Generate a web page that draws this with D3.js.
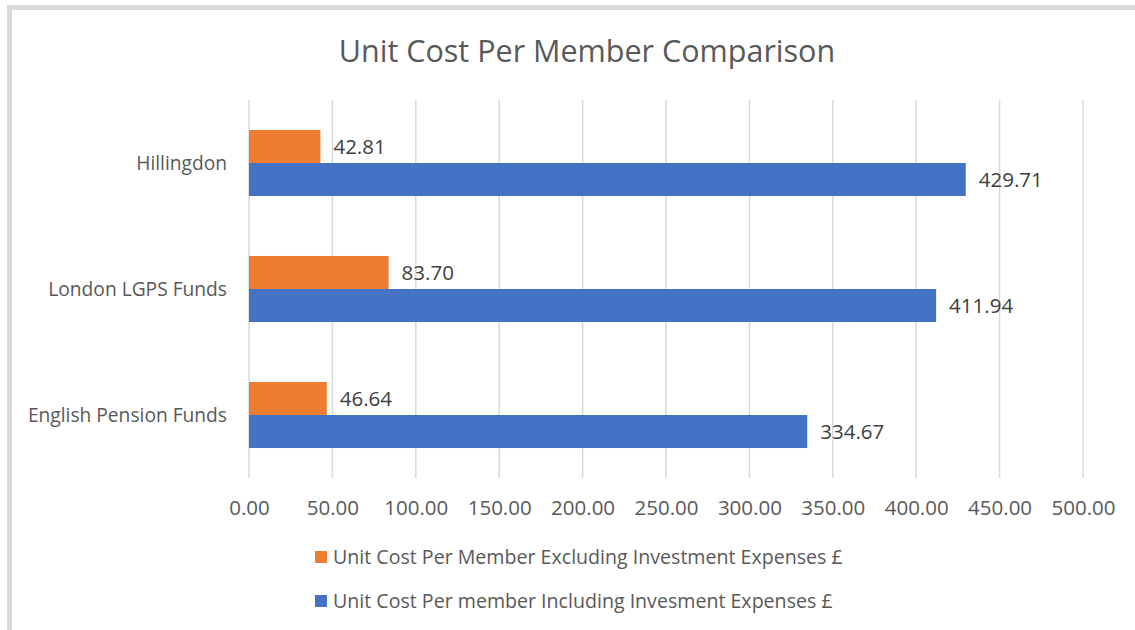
<!DOCTYPE html>
<html>
<head>
<meta charset="utf-8">
<script src="https://cdn.jsdelivr.net/npm/d3@7"></script>
<style>
  body { margin: 0; background: #fff; }
  text { font-family: "Open Sans", sans-serif; }
</style>
</head>
<body>
<div id="chart"></div>
<script>
// data
var categories = ["Hillingdon", "London LGPS Funds", "English Pension Funds"];
var seriesNames = ["Unit Cost Per Member Excluding Investment Expenses £",
                   "Unit Cost Per member Including Invesment Expenses £"];
var excluding = [42.81, 83.70, 46.64];
var including = [429.71, 411.94, 334.67];
var xTicks = [0, 50, 100, 150, 200, 250, 300, 350, 400, 450, 500];

var colors = ["#ed7d31", "#4472c4"];

// svg container
var svgWidth = 1135;
var svgHeight = 630;

var plot = { left: 249, right: 1083, top: 100, bottom: 478 };

var svg = d3.select("#chart")
  .append("svg")
  .attr("width", svgWidth)
  .attr("height", svgHeight);

svg.append("rect")
  .attr("width", svgWidth)
  .attr("height", svgHeight)
  .attr("fill", "#fff");

// grey frame that runs off the right and bottom edge
svg.append("rect")
  .attr("x", 9.5)
  .attr("y", 7.5)
  .attr("width", 1200)
  .attr("height", 700)
  .attr("fill", "none")
  .attr("stroke", "#d9d9d9")
  .attr("stroke-width", 5);

// title
svg.append("text")
  .attr("x", 587)
  .attr("y", 62)
  .attr("text-anchor", "middle")
  .attr("font-size", "30.5px")
  .attr("fill", "#595959")
  .text("Unit Cost Per Member Comparison");

// scales
var x = d3.scaleLinear()
  .domain([0, 500])
  .range([plot.left, plot.right]);

var y = d3.scaleBand()
  .domain(categories)
  .range([plot.top, plot.bottom])
  .paddingInner(0.476)
  .paddingOuter(0.238);

var ySub = d3.scaleBand()
  .domain([0, 1])
  .range([0, y.bandwidth()]);

// gridlines
svg.append("g")
  .selectAll("line")
  .data(xTicks)
  .enter()
  .append("line")
  .attr("x1", d => x(d))
  .attr("x2", d => x(d))
  .attr("y1", plot.top)
  .attr("y2", plot.bottom)
  .attr("stroke", "#d9d9d9")
  .attr("stroke-width", 1.5);

// x axis labels
var bottomAxis = d3.axisBottom(x)
  .tickValues(xTicks)
  .tickFormat(d3.format(".2f"))
  .tickSize(0)
  .tickPadding(0);

var xAxis = svg.append("g")
  .attr("transform", `translate(0, 500)`)
  .call(bottomAxis);
xAxis.select(".domain").remove();
xAxis.selectAll("text")
  .attr("font-family", "Open Sans, sans-serif")
  .attr("font-size", "20.5px")
  .attr("fill", "#595959");

// category labels
svg.append("g")
  .selectAll("text")
  .data(categories)
  .enter()
  .append("text")
  .attr("x", 227)
  .attr("y", d => y(d) + y.bandwidth() / 2)
  .attr("dy", "0.35em")
  .attr("text-anchor", "end")
  .attr("font-size", "19.2px")
  .attr("fill", "#595959")
  .text(d => d);

// bars
var rows = categories.map(function(c, i) {
  return { cat: c, values: [excluding[i], including[i]] };
});

var groups = svg.append("g")
  .selectAll("g")
  .data(rows)
  .enter()
  .append("g")
  .attr("transform", d => `translate(0, ${y(d.cat)})`);

groups.selectAll("rect")
  .data(d => d.values.map((v, s) => ({ v: v, s: s })))
  .enter()
  .append("rect")
  .attr("x", x(0))
  .attr("y", d => ySub(d.s))
  .attr("width", d => x(d.v) - x(0))
  .attr("height", ySub.bandwidth())
  .attr("fill", d => colors[d.s]);

groups.selectAll("text")
  .data(d => d.values.map((v, s) => ({ v: v, s: s })))
  .enter()
  .append("text")
  .attr("x", d => x(d.v) + 13)
  .attr("y", d => ySub(d.s) + ySub.bandwidth() / 2)
  .attr("dy", "0.35em")
  .attr("font-size", "20.5px")
  .attr("fill", "#404040")
  .text(d => d3.format(".2f")(d.v));

// legend
var legend = svg.append("g")
  .selectAll("g")
  .data(seriesNames)
  .enter()
  .append("g")
  .attr("transform", (d, i) => `translate(315, ${557 + i * 44})`);

legend.append("rect")
  .attr("x", 0)
  .attr("y", -6)
  .attr("width", 12)
  .attr("height", 12)
  .attr("fill", (d, i) => colors[i]);

legend.append("text")
  .attr("x", 18)
  .attr("y", 0)
  .attr("dy", "0.35em")
  .attr("font-size", "19.6px")
  .attr("fill", "#595959")
  .text(d => d);
</script>
</body>
</html>
